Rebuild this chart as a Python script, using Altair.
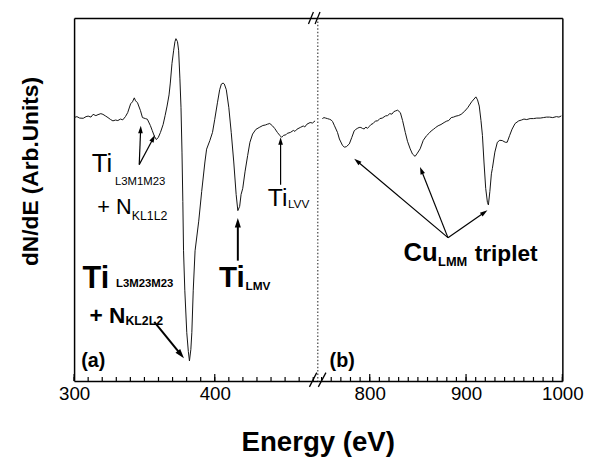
import math
import altair as alt
import pandas as pd

FONT = "Liberation Sans"

# ---------------- data ----------------
# Panel (a): Ti / N region
energy_a = [300.0, 302.0, 304.0, 306.5, 308.5, 310.0, 312.0, 313.5, 315.5, 317.0, 319.0, 320.5,
            322.5, 324.1, 326.0, 327.6, 329.5, 331.1, 333.0, 334.6, 336.5, 338.1, 340.2, 341.5,
            342.8, 343.7, 345.1, 347.2, 348.6, 350.7, 352.1, 354.2, 355.6, 357.1, 358.5, 359.9,
            361.4, 363.3, 364.7, 366.1, 367.5, 368.4, 369.6, 370.8, 371.7, 372.4, 373.5, 374.3,
            375.2, 376.0, 376.7, 377.3, 377.8, 378.7, 380.1, 381.2, 382.0, 383.0, 383.7, 384.7,
            386.0, 388.6, 390.7, 393.0, 394.2, 396.5, 398.4, 400.0, 401.9, 403.5, 404.7, 405.9,
            406.8, 408.2, 410.0, 411.7, 413.5, 415.2, 416.4, 417.7, 418.7, 419.9, 421.5, 423.4,
            425.0, 426.9, 429.2, 431.6, 434.2, 436.0, 437.4, 439.1, 441.0, 442.6, 444.5, 446.2,
            447.5, 448.9, 450.5, 451.5, 453.8, 455.9, 457.0, 458.5, 460.8, 462.9, 464.0, 465.5,
            467.8, 469.5, 471.3]
signal_a = [0.0, 0.1, -0.05, -0.07, 0.1, 0.15, 0.05, 0.33, 0.2, 0.3, 0.4, 0.33,
            0.15, 0.0, -0.2, -0.33, -0.25, -0.3, -0.15, -0.23, 0.1, 0.5, 1.4, 1.6,
            2.0, 1.7, 1.5, 0.7, 0.0, -0.1, -0.17, -0.8, -1.33, -1.9, -2.23, -2.0,
            -1.5, -0.7, 0.2, 1.17, 2.3, 3.5, 5.5, 6.83, 7.7, 8.0, 7.7, 6.83,
            4.0, 1.0, -3.5, -8.5, -13.5, -17.5, -21.8, -23.7, -24.67, -23.5, -21.8, -17.5,
            -13.5, -10.5, -7.5, -4.5, -3.2, -2.33, -1.5, -0.17, 1.5, 2.83, 3.4, 3.5,
            3.4, 2.83, 1.0, -1.5, -4.5, -7.8, -9.43, -9.0, -7.8, -7.17, -5.5, -3.83,
            -2.5, -1.67, -1.2, -1.0, -0.8, -0.75, -0.67, -0.6, -0.83, -1.1, -1.5, -1.8,
            -2.0, -1.8, -1.75, -1.6, -1.5, -1.3, -1.4, -1.17, -1.0, -0.85, -0.95, -0.67,
            -0.5, -0.55, -0.33]

# Panel (b): Cu LMM region
energy_b = [750.8, 752.5, 754.2, 756.0, 758.3, 760.0, 761.4, 763.4, 766.5, 768.5, 771.6, 773.6,
            775.7, 778.8, 781.4, 783.9, 785.5, 787.0, 789.0, 790.8, 792.5, 794.2, 796.0, 797.5,
            799.5, 801.3, 803.5, 806.1, 808.0, 810.5, 813.0, 816.4, 818.5, 820.8, 823.0, 825.0,
            826.6, 829.0, 831.8, 834.1, 836.9, 839.2, 842.0, 844.4, 847.1, 849.5, 852.3, 855.6,
            859.0, 861.5, 863.8, 866.0, 868.5, 871.0, 874.0, 877.2, 880.0, 882.0, 884.6, 887.0,
            889.5, 892.0, 894.9, 898.6, 901.7, 905.8, 910.2, 911.9, 913.7, 915.5, 917.0, 918.6,
            920.4, 922.2, 923.2, 924.7, 926.3, 927.3, 929.9, 932.5, 935.0, 937.6, 940.7, 942.7,
            945.3, 947.8, 950.9, 954.7, 957.5, 960.1, 963.0, 966.5, 970.0, 973.4, 977.0, 980.2,
            983.5, 986.7, 990.0, 993.8, 996.5, 998.9]
signal_b = [-0.1, 0.0, -0.05, -0.1, -0.17, -0.25, -0.4, -0.83, -1.5, -2.17, -2.8, -3.0,
            -2.95, -2.67, -2.0, -1.33, -1.2, -1.1, -1.0, -1.0, -1.1, -1.15, -0.95, -1.1,
            -0.9, -0.7, -0.6, -0.33, -0.35, -0.1, -0.05, 0.17, 0.2, 0.4, 0.35, 0.6,
            0.67, 0.75, 0.5, -0.3, -1.5, -2.4, -3.17, -3.7, -3.93, -3.6, -3.17, -2.3,
            -1.83, -1.6, -1.35, -1.2, -1.0, -0.83, -0.7, -0.5, -0.35, -0.3, 0.0, 0.05,
            0.15, 0.2, 0.33, 0.65, 1.0, 1.6, 2.1, 1.8, 1.17, -0.3, -1.8, -4.5,
            -7.17, -8.6, -8.85, -7.5, -5.7, -5.17, -3.5, -2.5, -2.3, -2.33, -2.5, -2.5,
            -1.8, -1.17, -0.6, -0.33, -0.25, -0.15, -0.2, -0.1, -0.1, -0.05, -0.05, 0.0,
            0.05, 0.05, 0.0, 0.1, 0.05, 0.17]

labels_a = [300, 400]
labels_b = [800, 900, 1000]
minor_a = list(range(300, 471, 10))
minor_b = list(range(750, 1001, 10))

# annotation texts: (energy, value, text, font size)
notes_a_normal = [(312.5, -5.5, "Ti", 26), (329.0, -6.8, "L3M1M23", 11.5),
                  (316.5, -9.8, "+ N", 22), (341.0, -10.4, "KL1L2", 12.5),
                  (437.7, -9.0, "Ti", 25), (452.0, -9.2, "LVV", 12)]
notes_a_bold = [(306.0, -17.3, "Ti", 31), (329.8, -17.2, "L3M23M23", 11.5),
                (311.0, -20.8, "+ N", 23), (336.5, -21.0, "KL2L2", 12.5),
                (305.1, -25.3, "(a)", 20),
                (403.0, -17.2, "Ti", 30), (421.8, -17.5, "LMV", 12)]
notes_b_bold = [(835.1, -14.5, "Cu", 26), (871.0, -15.0, "LMM", 13),
                (908.9, -14.5, "triplet", 23), (758.3, -25.3, "(b)", 20)]

# arrows: (from energy, from value, to energy, to value)
arrows_a_thin = [(346.3, -4.77, 347.4, -0.83), (346.3, -4.77, 357.5, -1.77),
                 (446.8, -6.8, 446.8, -2.0)]
arrows_a_thick = [(416.4, -14.5, 416.4, -10.17), (357.0, -20.7, 378.1, -24.4)]
arrows_b_thin = [(881.2, -12.17, 783.9, -4.17), (881.2, -12.17, 852.2, -5.0),
                 (881.2, -12.17, 922.2, -9.4)]

# ---------------- layout ----------------
W_A, W_B, H = 247, 248, 368
XA = [300, 473.2]
XB = [746, 1000]
YD = [-26.7, 10.1]
KY = H / (YD[1] - YD[0])
HEAD = "M0,0L-0.5,1.6L0.5,1.6Z"

ys = alt.Scale(domain=YD, nice=False, zero=False)
ONE = pd.DataFrame({"d": [0]})


def text_layer(rows, weight, xs):
    df = pd.DataFrame(rows, columns=["e", "v", "t", "fs"])
    return alt.Chart(df).mark_text(align="left", baseline="alphabetic", font=FONT,
                                   fontWeight=weight, color="black").encode(
        x=alt.X("e:Q", scale=xs, axis=None),
        y=alt.Y("v:Q", scale=ys, axis=None),
        text="t:N",
        size=alt.Size("fs:Q", scale=None, legend=None))


def arrow_layers(rows, xs, kx, width, head_size):
    df = pd.DataFrame(rows, columns=["e1", "v1", "e2", "v2"])
    r = math.sqrt(head_size) / 2
    angs, es, vs = [], [], []
    for _, row in df.iterrows():
        dx = (row.e2 - row.e1) * kx
        dyu = (row.v2 - row.v1) * KY
        angs.append(math.degrees(math.atan2(dx, dyu)) % 360)
        L = math.hypot(dx, dyu)
        es.append(row.e2 - dx / L * r / kx)
        vs.append(row.v2 - dyu / L * r / KY)
    df["ang"] = angs
    df["es"] = es
    df["vs"] = vs
    line = alt.Chart(df).mark_rule(color="black", strokeWidth=width).encode(
        x=alt.X("e1:Q", scale=xs, axis=None), x2="es:Q",
        y=alt.Y("v1:Q", scale=ys, axis=None), y2="vs:Q")
    head = alt.Chart(df).mark_point(shape=HEAD, filled=True, color="black", opacity=1,
                                    strokeWidth=0, size=head_size).encode(
        x=alt.X("e2:Q", scale=xs, axis=None),
        y=alt.Y("v2:Q", scale=ys, axis=None),
        angle=alt.Angle("ang:Q", scale=None))
    return [line, head]


def hrule(x, x2, y, y2=None, **kw):
    enc = dict(x=alt.value(x), x2=alt.value(x2), y=alt.value(y))
    if y2 is not None:
        enc["y2"] = alt.value(y2)
    return alt.Chart(ONE).mark_rule(**kw).encode(**enc)


def vrule(x, y, y2, **kw):
    return alt.Chart(ONE).mark_rule(**kw).encode(x=alt.value(x), y=alt.value(y),
                                                 y2=alt.value(y2))


def tick_layer(values, xs, length):
    df = pd.DataFrame({"t": values})
    return alt.Chart(df).mark_rule(color="black", strokeWidth=1.2).encode(
        x=alt.X("t:Q", scale=xs, axis=None), y=alt.value(H), y2=alt.value(H - length))


def panel(energy, signal, xdom, width, labels, minor, left):
    xs = alt.Scale(domain=xdom, nice=False, zero=False)
    df = pd.DataFrame({"e": energy, "v": signal})
    ax = dict(orient="bottom", values=labels, ticks=False, domainColor="black",
              domainWidth=1.5, labelFont=FONT, labelFontSize=19, labelColor="black",
              labelPadding=4, labelFlush=False, labelOverlap=False, grid=False, format="d")
    if left:
        ax.update(title="Energy (eV)", titleFont=FONT, titleFontSize=28,
                  titleFontWeight="bold", titleColor="black", titleX=width, titleY=70,
                  titleAlign="center", titleBaseline="alphabetic")
    else:
        ax.update(title=None)
    yax = alt.Axis(orient="left" if left else "right", ticks=False, labels=False,
                   domainColor="black", domainWidth=1.5, grid=False, title=None)
    line = alt.Chart(df).mark_line(color="#111111", strokeWidth=1).encode(
        x=alt.X("e:Q", scale=xs, axis=alt.Axis(**ax)),
        y=alt.Y("v:Q", scale=ys, axis=yax))
    top = alt.Chart(df).mark_line(opacity=0).encode(
        x=alt.X("e:Q", scale=xs, axis=alt.Axis(orient="top", ticks=False, labels=False,
                                               domainColor="black", domainWidth=1.5,
                                               grid=False, title=None)),
        y=alt.Y("v:Q", scale=ys, axis=None))
    layers = [line, top, tick_layer(minor, xs, 4), tick_layer(labels, xs, 7)]
    return xs, layers


xa, layers_a = panel(energy_a, signal_a, XA, W_A, labels_a, minor_a, True)
xb, layers_b = panel(energy_b, signal_b, XB, W_B, labels_b, minor_b, False)
KXA = W_A / (XA[1] - XA[0])
KXB = W_B / (XB[1] - XB[0])

dotted = vrule(W_A, 0, H, color="#666666", strokeWidth=1.5, strokeDash=[1.5, 2])
slashes = [
    hrule(237.6, 242.6, 6, -6, color="black", strokeWidth=1.3),
    hrule(244.3, 249.3, 6, -6, color="black", strokeWidth=1.3),
    hrule(238.6, 246.0, 374, 359.5, color="black", strokeWidth=1.3),
    hrule(247.6, 255.3, 374, 359.5, color="black", strokeWidth=1.3),
]

layers_a += [dotted] + slashes
layers_a += [text_layer(notes_a_normal, "normal", xa), text_layer(notes_a_bold, "bold", xa)]
layers_a += arrow_layers(arrows_a_thin, xa, KXA, 1.2, 90)
layers_a += arrow_layers(arrows_a_thick, xa, KXA, 2.0, 150)

layers_b += [text_layer(notes_b_bold, "bold", xb)]
layers_b += arrow_layers(arrows_b_thin, xb, KXB, 1.2, 90)

panel_a = alt.layer(*layers_a).properties(width=W_A, height=H).resolve_axis(
    x="independent", y="independent")
panel_b = alt.layer(*layers_b).properties(width=W_B, height=H).resolve_axis(
    x="independent", y="independent")

chart = alt.hconcat(panel_a, panel_b, spacing=0).properties(
    bounds="flush",
    padding={"left": 12, "top": 0, "right": 5, "bottom": 0},
    background="white",
    title=alt.TitleParams("dN/dE (Arb.Units)", orient="left", anchor="middle",
                          font=FONT, fontSize=23, fontWeight="bold", color="black",
                          offset=16, dx=63),
).configure_view(stroke=None)

chart.save("out.html", embed_options={"renderer": "svg", "actions": False})
